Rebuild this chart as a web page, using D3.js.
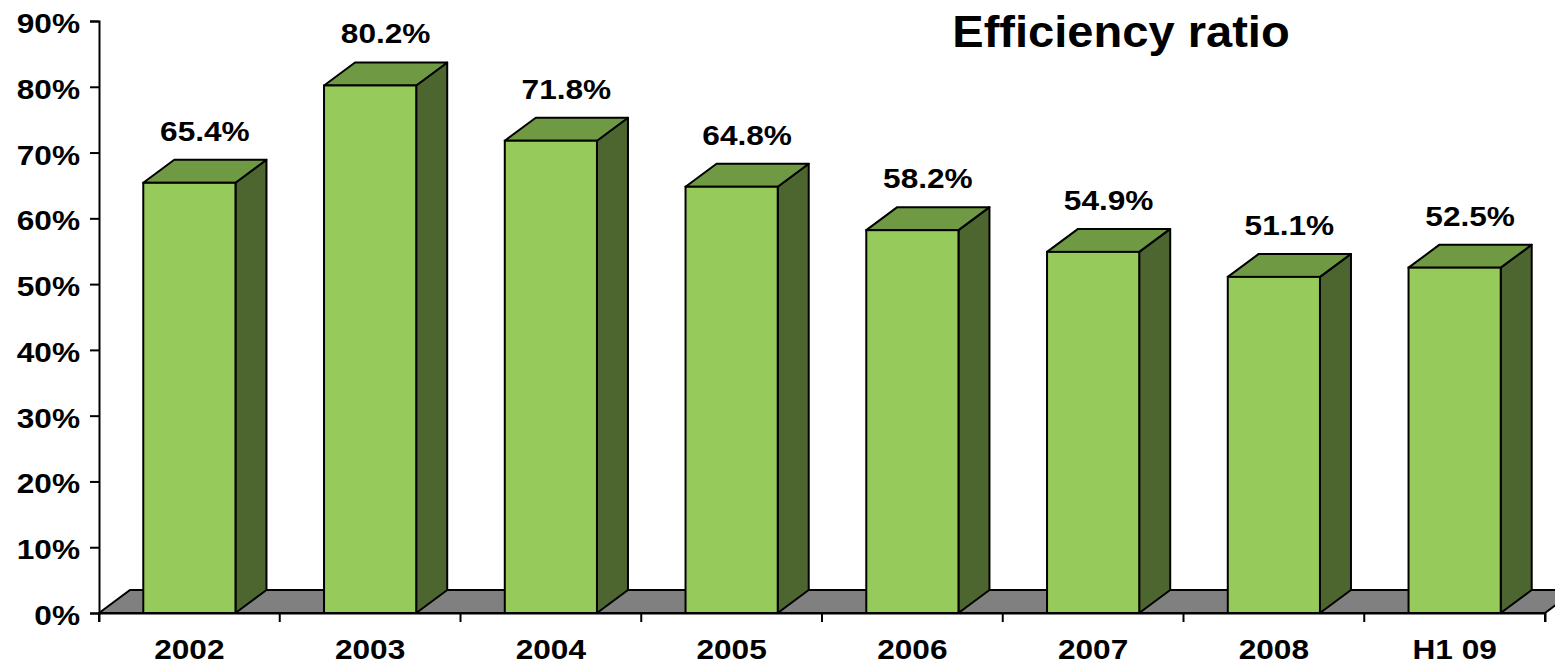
<!DOCTYPE html>
<html>
<head>
<meta charset="utf-8">
<script src="https://cdn.jsdelivr.net/npm/d3@7"></script>
<style>
  body { margin: 0; background: #fff; }
  svg { display: block; font-family: Arial, "Liberation Sans", sans-serif; font-weight: bold; }
</style>
</head>
<body>
<svg id="canvas" width="1555" height="667"></svg>
<script>
// chart data
var categories = ['2002', '2003', '2004', '2005', '2006', '2007', '2008', 'H1 09'];
var values = [65.4, 80.2, 71.8, 64.8, 58.2, 54.9, 51.1, 52.5];
var yTicks = [0, 10, 20, 30, 40, 50, 60, 70, 80, 90];
var title = 'Efficiency ratio';

var svg = d3.select('#canvas');

var plotLeft = 99, plotRight = 1545, plotTop = 21, plotBottom = 613;
var dx = 31, dy = 23;      // depth of the 3d effect
var textScale = 1.13;      // reference text is a bit wider than Arial
var fontSize = 28;
var lw = 2;

var x = d3.scaleBand()
    .domain(categories)
    .range([plotLeft, plotRight])
    .paddingInner(0)
    .paddingOuter(0);

var y = d3.scaleLinear()
    .domain([0, 90])
    .range([plotBottom, plotTop]);

var barW = x.bandwidth() * 0.51;

function wideText(sel, tx, ty, size, sx) {
    return sel.append('text')
        .attr('transform', 'translate(' + tx + ',' + ty + ') scale(' + sx + ',1)')
        .style('font-size', size + 'px');
}

// floor
svg.append('path')
    .attr('d', 'M' + plotLeft + ',' + plotBottom +
        'L' + (plotLeft + dx) + ',' + (plotBottom - dy) +
        'L' + (plotRight + dx) + ',' + (plotBottom - dy) +
        'L' + plotRight + ',' + plotBottom + 'Z')
    .attr('fill', '#808080')
    .attr('stroke', '#000')
    .attr('stroke-width', lw);

// axes
var yAxis = svg.append('g')
    .attr('transform', 'translate(' + plotLeft + ',0)')
    .call(d3.axisLeft(y).tickValues(yTicks).tickSize(9).tickFormat(''));

var xAxis = svg.append('g')
    .attr('transform', 'translate(0,' + plotBottom + ')')
    .call(d3.axisBottom(x).tickSize(9).tickFormat(''));

// put ticks on band boundaries
xAxis.selectAll('.tick').remove();
xAxis.selectAll('line.bound')
    .data(d3.range(categories.length + 1))
    .enter()
    .append('line')
    .attr('x1', function(i) { return plotLeft + i * x.step(); })
    .attr('x2', function(i) { return plotLeft + i * x.step(); })
    .attr('y1', 0)
    .attr('y2', 9);

[yAxis, xAxis].forEach(function(a) {
    a.select('.domain').attr('stroke', '#000').attr('stroke-width', lw);
    a.selectAll('line').attr('stroke', '#000').attr('stroke-width', lw);
});

// y tick labels
yTicks.forEach(function(t) {
    wideText(svg, 80, y(t) + 12, fontSize, textScale)
        .attr('text-anchor', 'end')
        .text(t + '%');
});

// x labels
categories.forEach(function(c) {
    wideText(svg, x(c) + x.bandwidth() / 2, 659, fontSize, textScale)
        .attr('text-anchor', 'middle')
        .text(c);
});

// bars
var bars = svg.selectAll('g.bar')
    .data(values.map(function(v, i) { return { c: categories[i], v: v }; }))
    .enter()
    .append('g')
    .attr('class', 'bar');

function x0(d) { return x(d.c) + (x.bandwidth() - barW) / 2; }

// side face
bars.append('path')
    .attr('d', function(d) {
        var a = x0(d) + barW, t = y(d.v);
        return 'M' + a + ',' + plotBottom + 'L' + (a + dx) + ',' + (plotBottom - dy) +
            'L' + (a + dx) + ',' + (t - dy) + 'L' + a + ',' + t + 'Z';
    })
    .attr('fill', '#4d6630')
    .attr('stroke', '#000')
    .attr('stroke-width', lw)
    .attr('stroke-linejoin', 'round');

// top face
bars.append('path')
    .attr('d', function(d) {
        var a = x0(d), t = y(d.v);
        return 'M' + a + ',' + t + 'L' + (a + dx) + ',' + (t - dy) +
            'L' + (a + barW + dx) + ',' + (t - dy) + 'L' + (a + barW) + ',' + t + 'Z';
    })
    .attr('fill', '#6f9a43')
    .attr('stroke', '#000')
    .attr('stroke-width', lw)
    .attr('stroke-linejoin', 'round');

// front face
bars.append('rect')
    .attr('x', x0)
    .attr('y', function(d) { return y(d.v); })
    .attr('width', barW)
    .attr('height', function(d) { return plotBottom - y(d.v); })
    .attr('fill', '#96ca5b')
    .attr('stroke', '#000')
    .attr('stroke-width', lw);

// value labels
bars.each(function(d) {
    wideText(d3.select(this), x0(d) + (barW + dx) / 2, y(d.v) - dy - 19, fontSize, textScale)
        .attr('text-anchor', 'middle')
        .text(d.v.toFixed(1) + '%');
});

// title
wideText(svg, 1121, 47, 44, 1.07)
    .attr('text-anchor', 'middle')
    .text(title);
</script>
</body>
</html>
